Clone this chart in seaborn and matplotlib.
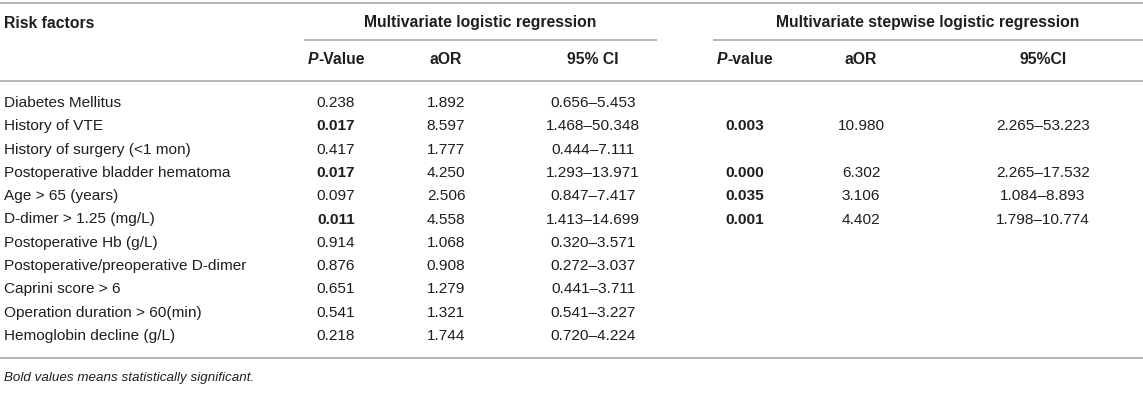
import matplotlib
matplotlib.use("Agg")
import matplotlib.pyplot as plt
import seaborn as sns

# table content
factors = [
    "Diabetes Mellitus",
    "History of VTE",
    "History of surgery (<1 mon)",
    "Postoperative bladder hematoma",
    "Age > 65 (years)",
    "D-dimer > 1.25 (mg/L)",
    "Postoperative Hb (g/L)",
    "Postoperative/preoperative D-dimer",
    "Caprini score > 6",
    "Operation duration > 60(min)",
    "Hemoglobin decline (g/L)",
]
p_multi = ["0.238", "0.017", "0.417", "0.017", "0.097", "0.011",
           "0.914", "0.876", "0.651", "0.541", "0.218"]
aor_multi = ["1.892", "8.597", "1.777", "4.250", "2.506", "4.558",
             "1.068", "0.908", "1.279", "1.321", "1.744"]
ci_multi = ["0.656–5.453", "1.468–50.348", "0.444–7.111", "1.293–13.971",
            "0.847–7.417", "1.413–14.699", "0.320–3.571", "0.272–3.037",
            "0.441–3.711", "0.541–3.227", "0.720–4.224"]
p_step = ["", "0.003", "", "0.000", "0.035", "0.001", "", "", "", "", ""]
aor_step = ["", "10.980", "", "6.302", "3.106", "4.402", "", "", "", "", ""]
ci_step = ["", "2.265–53.223", "", "2.265–17.532", "1.084–8.893",
           "1.798–10.774", "", "", "", "", ""]

group_titles = ["Multivariate logistic regression",
                "Multivariate stepwise logistic regression"]
sub_titles = [("P", "-Value"), ("aOR", None), ("95% CI", None),
              ("P", "-value"), ("aOR", None), ("95%CI", None)]
footnote = "Bold values means statistically significant."

sns.set_style("white")
plt.rcParams["font.family"] = ["Liberation Sans", "DejaVu Sans"]

W, H = 1143, 416
fig = plt.figure(figsize=(W / 100, H / 100), dpi=100)
ax = fig.add_axes([0, 0, 1, 1])
ax.set_xlim(0, W)
ax.set_ylim(H, 0)
ax.axis("off")

txt = "#1e1e1e"
rule = "#b4b4b4"
fs_head = 11.3
fs_body = 11.1

col_x = [336, 446, 593, 745, 861, 1043]
group_x = [480, 928]
row0, row_h = 103, 23.3
left = 4

# rules
for y in (3, 81, 358):
    ax.plot([0, W], [y, y], color=rule, lw=1.4, solid_capstyle="butt")
ax.plot([304, 657], [40, 40], color=rule, lw=1.4, solid_capstyle="butt")
ax.plot([713, W], [40, 40], color=rule, lw=1.4, solid_capstyle="butt")

# header
ax.text(left, 23, "Risk factors", fontsize=fs_head, fontweight="bold",
        color=txt, ha="left", va="center")
for gx, title in zip(group_x, group_titles):
    ax.text(gx, 23, title, fontsize=fs_head, fontweight="bold", color=txt,
            ha="center", va="center")

fig.canvas.draw()
renderer = fig.canvas.get_renderer()
for cx, (a, b) in zip(col_x, sub_titles):
    if b is None:
        ax.text(cx, 60, a, fontsize=fs_head, fontweight="bold", color=txt,
                ha="center", va="center")
        continue
    ta = ax.text(0, 60, a, fontsize=fs_head, fontweight="bold",
                 style="italic", color=txt, ha="left", va="center")
    tb = ax.text(0, 60, b, fontsize=fs_head, fontweight="bold", color=txt,
                 ha="left", va="center")
    wa = ta.get_window_extent(renderer).width
    wb = tb.get_window_extent(renderer).width
    x0 = cx - (wa + wb) / 2
    ta.set_x(x0)
    tb.set_x(x0 + wa)

# body
columns = [p_multi, aor_multi, ci_multi, p_step, aor_step, ci_step]
for i, name in enumerate(factors):
    y = row0 + i * row_h
    ax.text(left, y, name, fontsize=fs_body, color=txt, ha="left",
            va="center")
    for j, (cx, col) in enumerate(zip(col_x, columns)):
        val = col[i]
        if not val:
            continue
        bold = (j == 0 and float(val) < 0.05) or j == 3
        ax.text(cx, y, val, fontsize=fs_body, color=txt, ha="center",
                va="center", fontweight="bold" if bold else "normal")

ax.text(left, 378, footnote, fontsize=9.6, style="italic", color=txt,
        ha="left", va="center")

fig.savefig("out.png", dpi=100)
